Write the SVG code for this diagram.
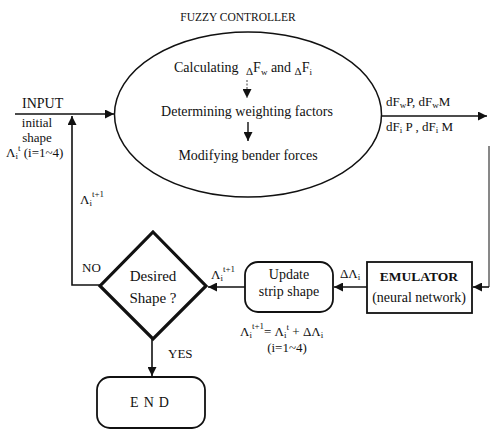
<svg xmlns="http://www.w3.org/2000/svg" width="490" height="429" viewBox="0 0 490 429" font-family="'Liberation Serif', 'Times New Roman', serif">
<defs>
<style>
text{font-family:'Liberation Serif','Times New Roman',serif;fill:#111;}
.t{font-size:14px;}
.s{font-size:13px;}
.sub{font-size:9px;}
.ln{stroke:#111;stroke-width:1.6;fill:none;}
.box{stroke:#111;stroke-width:1.8;fill:#fff;}
</style>
<marker id="ah2" viewBox="0 0 10 10" refX="10" refY="5" markerWidth="9" markerHeight="9" orient="auto" markerUnits="userSpaceOnUse">
<path d="M0,0 L10,5 L0,10 z" fill="#111"/>
</marker>
</defs>

<text x="238" y="21" text-anchor="middle" font-size="11.5">FUZZY CONTROLLER</text>

<g id="connectors">
<line class="ln" x1="15" y1="114" x2="114" y2="114" marker-end="url(#ah2)"/>
<polyline class="ln" points="100,285 72,285 72,116" marker-end="url(#ah2)"/>
<line class="ln" x1="382" y1="116" x2="487" y2="116" marker-end="url(#ah2)"/>
<line x1="489" y1="146" x2="489" y2="287" stroke="#111" stroke-width="1"/>
<line class="ln" x1="489" y1="287" x2="473" y2="287" marker-end="url(#ah2)"/>
<line class="ln" x1="367" y1="287" x2="334" y2="287" marker-end="url(#ah2)"/>
<line class="ln" x1="245" y1="287" x2="208" y2="287" marker-end="url(#ah2)"/>
<line class="ln" x1="152" y1="339" x2="152" y2="376" marker-end="url(#ah2)"/>
</g>

<g id="fuzzy-controller">
<ellipse cx="248" cy="114.5" rx="133.5" ry="82.5" fill="#fff" stroke="#111" stroke-width="1.5"/>
<text class="t" x="174" y="72">Calculating</text>
<text class="t" x="246" y="72"><tspan font-size="11" dy="3">Δ</tspan><tspan dy="-3">F</tspan><tspan class="sub" dy="3">w</tspan><tspan dy="-3"> and </tspan><tspan font-size="11" dy="3">Δ</tspan><tspan dy="-3">F</tspan><tspan class="sub" dy="3">i</tspan></text>
<line x1="247" y1="80" x2="247" y2="98" stroke="#111" stroke-width="0.8" stroke-dasharray="2,1.5" marker-end="url(#ah2)"/>
<text class="t" x="247" y="116" text-anchor="middle">Determining weighting factors</text>
<line x1="248" y1="122" x2="248" y2="141" stroke="#111" stroke-width="1.4" marker-end="url(#ah2)"/>
<text class="t" x="248" y="160" text-anchor="middle">Modifying bender forces</text>
</g>

<g id="input">
<text class="t" x="22" y="108">INPUT</text>
<text class="s" x="37" y="127" text-anchor="middle">initial</text>
<text class="s" x="37" y="142" text-anchor="middle">shape</text>
<text class="s" x="6" y="157">Λ<tspan class="sub" dy="2">i</tspan><tspan class="sub" dy="-8">t</tspan><tspan dy="6"> (i=1~4)</tspan></text>
<text class="s" x="80" y="204">Λ<tspan class="sub" dy="2">i</tspan><tspan class="sub" dy="-9">t+1</tspan></text>
<text class="s" x="82" y="272">NO</text>
</g>

<g id="outputs">
<text class="s" x="386" y="106">dF<tspan class="sub" dy="2">w</tspan><tspan dy="-2">P, dF</tspan><tspan class="sub" dy="2">w</tspan><tspan dy="-2">M</tspan></text>
<text class="s" x="386" y="131">dF<tspan class="sub" dy="2">i</tspan><tspan dy="-2"> P , dF</tspan><tspan class="sub" dy="2">i</tspan><tspan dy="-2"> M</tspan></text>
</g>

<g id="decision">
<polygon points="153,232 206,286 153,339 100,286" fill="#fff" stroke="#111" stroke-width="3.2" stroke-linejoin="miter"/>
<text x="153" y="281" text-anchor="middle" font-size="15">Desired</text>
<text x="153" y="303" text-anchor="middle" font-size="15">Shape ?</text>
<text class="s" x="211" y="279">Λ<tspan class="sub" dy="2">i</tspan><tspan class="sub" dy="-9">t+1</tspan></text>
<text class="s" x="168" y="358">YES</text>
</g>

<g id="update">
<rect class="box" x="245" y="262" width="88" height="50" rx="13"/>
<text class="t" x="289" y="279" text-anchor="middle">Update</text>
<text class="t" x="289" y="296" text-anchor="middle">strip shape</text>
<text class="s" x="240" y="336">Λ<tspan class="sub" dy="2">i</tspan><tspan class="sub" dy="-9">t+1</tspan><tspan dy="7">= Λ</tspan><tspan class="sub" dy="2">i</tspan><tspan class="sub" dy="-8">t</tspan><tspan dy="6"> + ΔΛ</tspan><tspan class="sub" dy="2">i</tspan></text>
<text class="s" x="287" y="352" text-anchor="middle">(i=1~4)</text>
<text class="s" x="340" y="278">ΔΛ<tspan class="sub" dy="2">i</tspan></text>
</g>

<g id="emulator">
<rect class="box" x="367" y="262" width="105" height="51"/>
<text x="419" y="281" text-anchor="middle" font-size="13.5" font-weight="bold">EMULATOR</text>
<text class="t" x="419" y="302" text-anchor="middle">(neural network)</text>
</g>

<g id="end">
<rect class="box" x="97" y="377" width="108" height="51" rx="13"/>
<text class="t" x="152" y="407" text-anchor="middle" letter-spacing="5">END</text>
</g>
</svg>
